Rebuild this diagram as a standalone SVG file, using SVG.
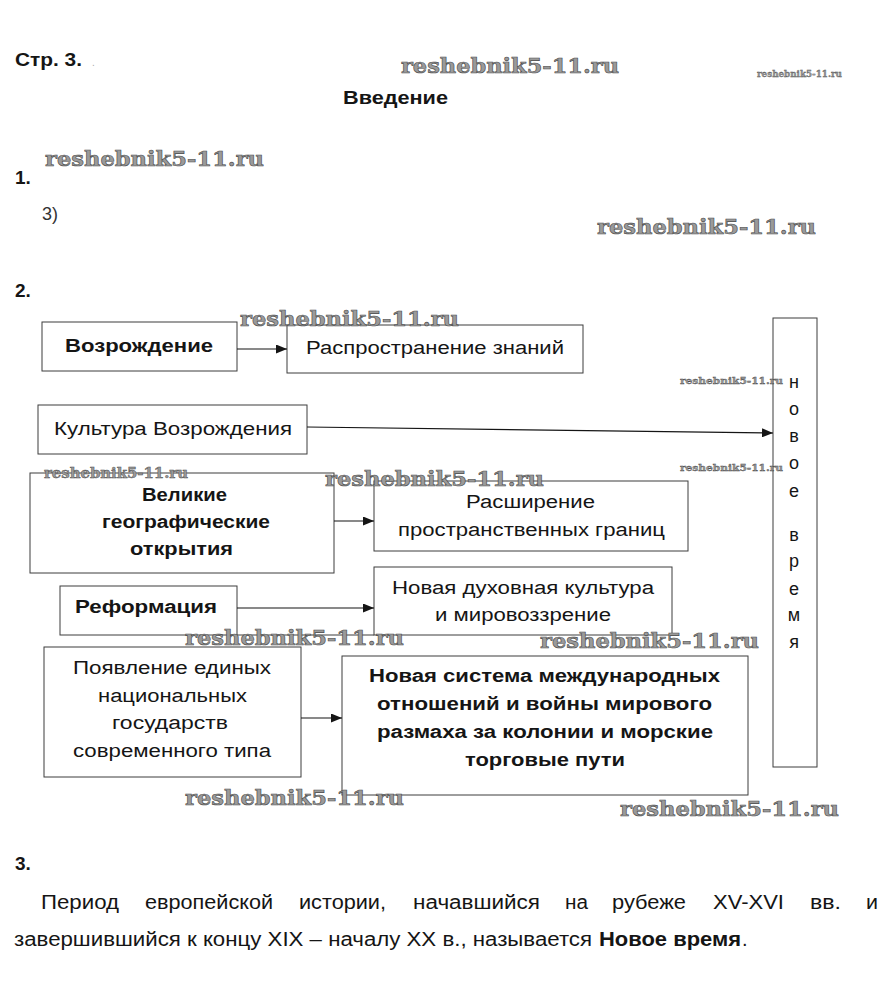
<svg xmlns="http://www.w3.org/2000/svg" width="891" height="1007" viewBox="0 0 891 1007">
<style>
.t{font-family:"Liberation Sans",Arial,sans-serif;font-size:18px;fill:#151515}
.h{font-family:"Liberation Sans",Arial,sans-serif;font-size:19px;font-weight:bold;fill:#151515}
.p{font-family:"Liberation Sans",Arial,sans-serif;font-size:20px;fill:#151515}
.b{font-weight:bold}
.box{fill:#fff;stroke:#3c3c3c;stroke-width:1}
.ln{stroke:#3c3c3c;stroke-width:1;fill:none}
.c{stroke:#151515;stroke-width:1.2;fill:none;marker-end:url(#ah)}
.wm{font-family:"DejaVu Serif","Liberation Serif",serif;font-weight:bold;fill:#9a9a9a;stroke:#4a4a4a;stroke-width:0.6}
.v{font-family:"Liberation Sans",Arial,sans-serif;font-size:18px;fill:#151515;text-anchor:middle}
</style>
<defs>
<marker id="ah" markerUnits="userSpaceOnUse" markerWidth="11" markerHeight="9" refX="11" refY="4.5" orient="auto">
<path d="M0,0 L11,4.5 L0,9 z" fill="#151515"/>
</marker>
</defs>
<rect width="891" height="1007" fill="#fff"/>

<g id="header">
<text class="h" x="15" y="66" textLength="67" lengthAdjust="spacingAndGlyphs">Стр. 3.</text>
<text class="t" x="92" y="66" style="font-size:10px;fill:#aaa">.</text>
<text class="h" x="343" y="104" textLength="105" lengthAdjust="spacingAndGlyphs" style="font-size:18px">Введение</text>
<text class="h" x="15" y="184">1.</text>
<text class="t" x="42" y="220" style="fill:#333">3)</text>
<text class="h" x="15" y="297">2.</text>
</g>

<g id="node-vozrozhdenie">
<rect class="box" x="42" y="322" width="195" height="49"/>
<text class="t b" x="65" y="352" textLength="148" lengthAdjust="spacingAndGlyphs">Возрождение</text>
</g>
<g id="node-rasprostranenie">
<rect class="box" x="287" y="325" width="296" height="48"/>
<text class="t" x="306" y="354" textLength="258" lengthAdjust="spacingAndGlyphs">Распространение знаний</text>
</g>
<g id="node-kultura">
<rect class="box" x="38" y="405" width="269" height="49"/>
<text class="t" x="54" y="435" textLength="238" lengthAdjust="spacingAndGlyphs">Культура Возрождения</text>
</g>
<g id="node-novoe-vremya">
<rect class="box" x="773" y="318" width="44" height="449"/>
<text class="v" x="794" y="388">н</text>
<text class="v" x="794" y="415">о</text>
<text class="v" x="794" y="442">в</text>
<text class="v" x="794" y="469">о</text>
<text class="v" x="794" y="497">е</text>
<text class="v" x="794" y="541">в</text>
<text class="v" x="794" y="567">р</text>
<text class="v" x="794" y="595">е</text>
<text class="v" x="794" y="621">м</text>
<text class="v" x="794" y="648">я</text>
</g>
<g id="node-velikie">
<rect class="box" x="30" y="473" width="304" height="100"/>
<text class="t b" x="142" y="501" textLength="85" lengthAdjust="spacingAndGlyphs">Великие</text>
<text class="t b" x="102" y="528" textLength="168" lengthAdjust="spacingAndGlyphs">географические</text>
<text class="t b" x="130" y="555" textLength="103" lengthAdjust="spacingAndGlyphs">открытия</text>
</g>
<g id="node-rasshirenie">
<rect class="box" x="374" y="481" width="314" height="70"/>
<text class="t" x="466" y="508" textLength="129" lengthAdjust="spacingAndGlyphs">Расширение</text>
<text class="t" x="398" y="536" textLength="267" lengthAdjust="spacingAndGlyphs">пространственных границ</text>
</g>
<g id="node-reformatsiya">
<rect class="box" x="60" y="586" width="177" height="49"/>
<text class="t b" x="75" y="613" textLength="142" lengthAdjust="spacingAndGlyphs">Реформация</text>
</g>
<g id="node-dukhovnaya">
<rect class="box" x="374" y="567" width="298" height="68"/>
<text class="t" x="392" y="594" textLength="262" lengthAdjust="spacingAndGlyphs">Новая духовная культура</text>
<text class="t" x="435" y="621" textLength="176" lengthAdjust="spacingAndGlyphs">и мировоззрение</text>
</g>
<line class="ln" x1="237" y1="635" x2="374" y2="635"/>
<g id="node-poyavlenie">
<rect class="box" x="44" y="647" width="257" height="130"/>
<text class="t" x="73" y="674" textLength="198" lengthAdjust="spacingAndGlyphs">Появление единых</text>
<text class="t" x="98" y="702" textLength="149" lengthAdjust="spacingAndGlyphs">национальных</text>
<text class="t" x="112" y="729" textLength="116" lengthAdjust="spacingAndGlyphs">государств</text>
<text class="t" x="73" y="757" textLength="198" lengthAdjust="spacingAndGlyphs">современного типа</text>
</g>
<g id="node-sistema">
<rect class="box" x="342" y="656" width="406" height="139"/>
<text class="t b" x="369" y="682" textLength="351" lengthAdjust="spacingAndGlyphs">Новая система международных</text>
<text class="t b" x="377" y="710" textLength="335" lengthAdjust="spacingAndGlyphs">отношений и войны мирового</text>
<text class="t b" x="377" y="738" textLength="336" lengthAdjust="spacingAndGlyphs">размаха за колонии и морские</text>
<text class="t b" x="465" y="766" textLength="160" lengthAdjust="spacingAndGlyphs">торговые пути</text>
</g>

<g id="connectors">
<line class="c" x1="237" y1="349" x2="287" y2="349"/>
<line class="c" x1="307" y1="427" x2="773" y2="433"/>
<line class="c" x1="334" y1="521" x2="374" y2="521"/>
<line class="c" x1="237" y1="608" x2="374" y2="608"/>
<line class="c" x1="301" y1="718" x2="342" y2="718"/>
</g>

<g id="task3">
<text class="h" x="15" y="870">3.</text>
<text class="p" x="41" y="909" textLength="78" lengthAdjust="spacingAndGlyphs">Период</text>
<text class="p" x="145" y="909" textLength="128" lengthAdjust="spacingAndGlyphs">европейской</text>
<text class="p" x="299" y="909" textLength="87" lengthAdjust="spacingAndGlyphs">истории,</text>
<text class="p" x="413" y="909" textLength="127" lengthAdjust="spacingAndGlyphs">начавшийся</text>
<text class="p" x="565" y="909" textLength="23" lengthAdjust="spacingAndGlyphs">на</text>
<text class="p" x="612" y="909" textLength="74" lengthAdjust="spacingAndGlyphs">рубеже</text>
<text class="p" x="713" y="909" textLength="71" lengthAdjust="spacingAndGlyphs">XV-XVI</text>
<text class="p" x="810" y="909" textLength="31" lengthAdjust="spacingAndGlyphs">вв.</text>
<text class="p" x="866" y="909" textLength="12" lengthAdjust="spacingAndGlyphs">и</text>
<text class="p" x="14" y="946" textLength="578" lengthAdjust="spacingAndGlyphs">завершившийся к концу XIX – началу XX в., называется</text>
<text class="p b" x="599" y="946" textLength="142" lengthAdjust="spacingAndGlyphs">Новое время</text>
<text class="p" x="742" y="946">.</text>
</g>

<g id="watermarks">
<text class="wm" x="401" y="73" font-size="21" textLength="218" lengthAdjust="spacingAndGlyphs">reshebnik5-11.ru</text>
<text class="wm" x="757" y="77" font-size="8.5" textLength="85" lengthAdjust="spacingAndGlyphs" style="stroke-width:0.3">reshebnik5-11.ru</text>
<text class="wm" x="45" y="166" font-size="21" textLength="219" lengthAdjust="spacingAndGlyphs">reshebnik5-11.ru</text>
<text class="wm" x="597" y="234" font-size="21" textLength="219" lengthAdjust="spacingAndGlyphs">reshebnik5-11.ru</text>
<text class="wm" x="240" y="326" font-size="21" textLength="219" lengthAdjust="spacingAndGlyphs">reshebnik5-11.ru</text>
<text class="wm" x="680" y="384" font-size="10" textLength="103" lengthAdjust="spacingAndGlyphs" style="stroke-width:0.35">reshebnik5-11.ru</text>
<text class="wm" x="680" y="471" font-size="10" textLength="103" lengthAdjust="spacingAndGlyphs" style="stroke-width:0.35">reshebnik5-11.ru</text>
<text class="wm" x="44" y="478" font-size="14" textLength="144" lengthAdjust="spacingAndGlyphs" style="stroke-width:0.45">reshebnik5-11.ru</text>
<text class="wm" x="325" y="486" font-size="21" textLength="219" lengthAdjust="spacingAndGlyphs">reshebnik5-11.ru</text>
<text class="wm" x="185" y="645" font-size="21" textLength="219" lengthAdjust="spacingAndGlyphs">reshebnik5-11.ru</text>
<text class="wm" x="540" y="648" font-size="21" textLength="219" lengthAdjust="spacingAndGlyphs">reshebnik5-11.ru</text>
<text class="wm" x="185" y="805" font-size="21" textLength="219" lengthAdjust="spacingAndGlyphs">reshebnik5-11.ru</text>
<text class="wm" x="620" y="816" font-size="21" textLength="219" lengthAdjust="spacingAndGlyphs">reshebnik5-11.ru</text>
</g>
</svg>
